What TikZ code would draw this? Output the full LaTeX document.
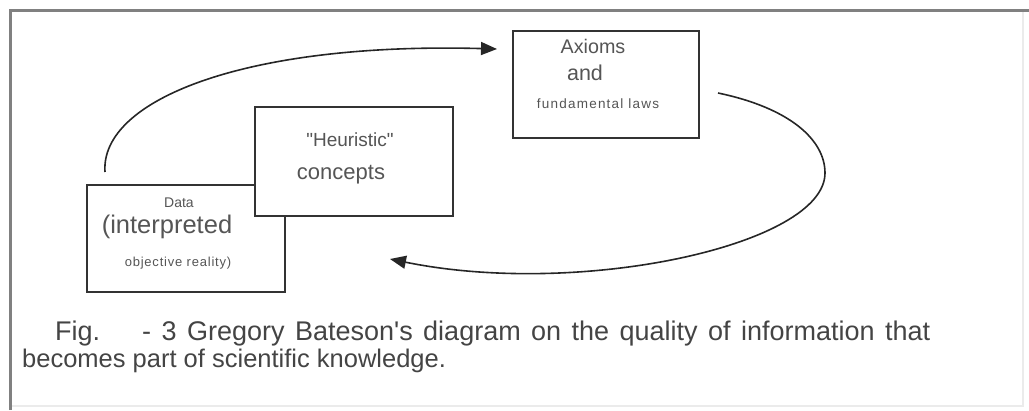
\documentclass[tikz,border=0pt]{standalone}
\usepackage{fontspec}
\setmainfont{Liberation Sans}
\newfontfamily\spacedfont[LetterSpace=6]{Liberation Sans}
\newfontfamily\spacedfontb[LetterSpace=9]{Liberation Sans}
\usetikzlibrary{arrows.meta}
\definecolor{boxline}{HTML}{333333}
\definecolor{txt}{HTML}{555555}
\definecolor{captxt}{HTML}{444444}
\definecolor{framec}{HTML}{808080}
\definecolor{framelight}{HTML}{EBEBEB}
\tikzset{
  box/.style={draw=boxline, line width=1.8pt, fill=white, inner sep=0pt},
  lbl/.style={text=txt, inner sep=0pt, anchor=base},
  captext/.style={text=captxt, inner sep=0pt, anchor=base west, font=\fontsize{25.5}{27}\selectfont},
  arc/.style={draw=black!85, line width=1.6pt, -{Triangle[length=16pt,width=13pt]}},
}
\begin{document}
\begin{tikzpicture}[x=1pt,y=-1pt]
\useasboundingbox (0,0) rectangle (1029,410);
% frame
\draw[framelight, line width=1.5pt] (1023,10) -- (1023,406) -- (10,406);
\draw[framec, line width=3pt] (10,410) -- (10,10) -- (1029,10);
% boxes
\node[box, minimum width=198pt, minimum height=107pt] (data) at (186,238.5) {};
\node[box, minimum width=198pt, minimum height=109pt] (heur) at (354,161.5) {};
\node[box, minimum width=186pt, minimum height=107pt] (axioms) at (606,84.5) {};
% texts
\node[lbl, font=\fontsize{14}{16}\selectfont] (t1) at (179,207) {Data};
\node[lbl, font=\fontsize{25.5}{27}\selectfont] (t2) at (167,233) {(interpreted};
\node[lbl, font=\spacedfont\fontsize{13}{15}\selectfont] (t3) at (178,266) {objective reality)};
\node[lbl, font=\fontsize{19}{21}\selectfont] (t4) at (350,146) {\textquotedbl Heuristic\textquotedbl};
\node[lbl, font=\fontsize{22}{24}\selectfont] (t5) at (341,179) {concepts};
\node[lbl, font=\fontsize{19.7}{21}\selectfont] (t6) at (593,53) {Axioms};
\node[lbl, font=\fontsize{21.5}{23}\selectfont] (t7) at (585,80) {and};
\node[lbl, font=\spacedfontb\fontsize{13.5}{15}\selectfont] (t8) at (598,108) {fundamental laws};
% caption
\node[captext, font=\fontsize{27}{29}\selectfont] (cap1) at (55,340)
  {Fig.\hspace{42pt}\makebox[788pt][s]{- 3 Gregory Bateson\textquotesingle s diagram on the quality of information that}};
\node[captext] (cap2) at (22,367) {becomes part of scientific knowledge.};
% connectors
\coordinate (a1s) at (105,172);
\coordinate (a1e) at (497,49);
\coordinate (a2s) at (718,93);
\coordinate (a2m) at (825,173);
\coordinate (a2e) at (390,259);
\draw[arc] (a1s) .. controls (100,100) and (245,42) .. (a1e);
\draw[arc] (a2s) .. controls (790,108) and (825,140) .. (a2m)
                 .. controls (825,245) and (580,298) .. (a2e);
\end{tikzpicture}
\end{document}
